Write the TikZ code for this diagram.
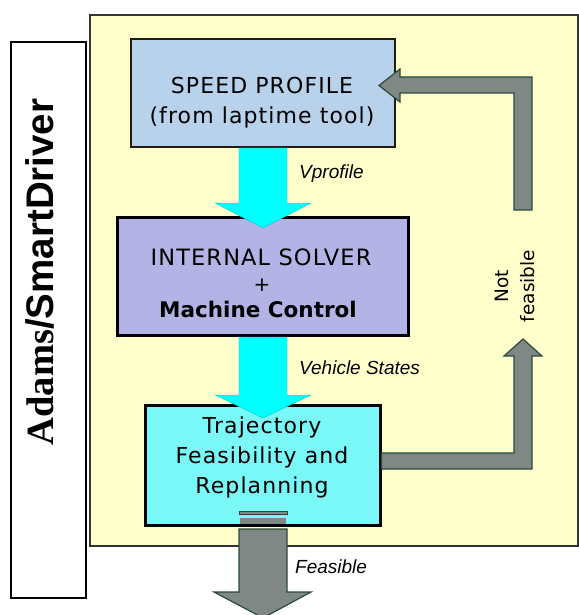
\documentclass[tikz,border=0pt]{standalone}
\usepackage{fontspec}
\setmainfont{DejaVu Sans}
\newfontfamily\boxfont[LetterSpace=5]{DejaVu Sans}
\newfontfamily\plainfont{DejaVu Sans}
\newfontfamily\boldboxfont{DejaVu Sans Bold}
\newfontfamily\labfont{Liberation Sans}
\newfontfamily\serifbold{Liberation Serif}
\newfontfamily\sansbold{Liberation Sans}
\definecolor{bgyellow}{HTML}{FFFFCC}
\definecolor{speedblue}{HTML}{B8D2EC}
\definecolor{solverpurple}{HTML}{B3B3E5}
\definecolor{trajcyan}{HTML}{7AF7F7}
\definecolor{arrowcyan}{HTML}{00FFFF}
\definecolor{grayarrow}{HTML}{7F8884}
\definecolor{grayedge}{HTML}{2B4A3C}
\begin{document}
\begin{tikzpicture}[x=1bp,y=-1bp,
  boxstyle/.style={draw=black, line width=3bp, inner sep=0pt, anchor=center},
  boxtext/.style={align=center, inner sep=0pt, font=\boxfont\fontsize{22bp}{30bp}\selectfont},
  labtext/.style={inner sep=0pt, anchor=west, font=\labfont\itshape\fontsize{19bp}{22bp}\selectfont},
  cyanarrow/.style={fill=arrowcyan, draw=arrowcyan!80!black, line width=0.4bp},
  grayblock/.style={fill=grayarrow, draw=grayedge, line width=1.2bp, line join=miter}
]
\useasboundingbox (0,0) rectangle (579,615);
% background panels
\node[draw=black!80, line width=1.2bp, fill=bgyellow, minimum width=488bp, minimum height=531bp, inner sep=0pt] (panel) at (334,280.5) {};
\node[draw=black, line width=1.2bp, fill=white, minimum width=75bp, minimum height=556bp, inner sep=0pt] (side) at (48.5,320) {};
\node[rotate=90, inner sep=0pt] (sidetext) at (40,272) {\fontsize{38.5bp}{40bp}\selectfont\serifbold\bfseries Adams\sansbold\bfseries/SmartDriver};

% boxes
\node[boxstyle, draw=black!80!brown, line width=2.6bp, fill=speedblue, minimum width=264bp, minimum height=108bp] (speed) at (263,93) {};
\node[boxstyle, fill=solverpurple, minimum width=291bp, minimum height=118bp] (solver) at (262.5,276) {};
\node[boxstyle, fill=trajcyan, minimum width=235bp, minimum height=120bp] (traj) at (262.5,465) {};

% cyan arrows (drawn over the box tops)
\draw[cyanarrow] (239,148) -- (239,203) -- (215,203) -- (263,228) -- (311,203) -- (287,203) -- (287,148) -- cycle;
\draw[cyanarrow] (239,337) -- (239,395) -- (215,395) -- (263,418) -- (311,395) -- (287,395) -- (287,337) -- cycle;

% box texts
\node[boxtext] (speedtxt) at (262,103) {SPEED PROFILE\\(from laptime tool)};
\node[inner sep=0pt, font=\boxfont\fontsize{22.5bp}{26bp}\selectfont] (solvertxt1) at (261,257) {INTERNAL SOLVER};
\node[inner sep=0pt, font=\plainfont\fontsize{20bp}{24bp}\selectfont] (solverplus) at (262,285) {+};
\node[inner sep=0pt, font=\boldboxfont\fontsize{21.5bp}{24bp}\selectfont] (solvertxt2) at (258,309) {Machine Control};
\node[boxtext] (trajtxt) at (262,457) {Trajectory\\Feasibility and\\Replanning};

% gray feedback arrows
\draw[grayblock] (traj.east |- 0,453) -- (514,453) -- (514,356) -- (504,356) -- (523,339) -- (542,356) -- (532,356) -- (532,469) -- (traj.east |- 0,469) -- cycle;
\draw[grayblock] (514,210) -- (514,93) -- (400,93) -- (400,102) -- (379,85.5) -- (400,69) -- (400,77) -- (532,77) -- (532,210) -- cycle;

% feasible output arrow
\draw[grayblock, line width=0.8bp] (239,511.5) rectangle (287,514.5);
\fill[grayarrow] (240,518) rectangle (286,524);
\draw[grayblock] (239,529) -- (239,592) -- (214,592) -- (263,618) -- (311,592) -- (287,592) -- (287,529) -- cycle;

% labels
\node[labtext] (vprof) at (299,174) {Vprofile};
\node[labtext] (vstates) at (299,368) {Vehicle States};
\node[labtext] (feas) at (295,567) {Feasible};
\node[rotate=90, align=center, inner sep=0pt, font=\plainfont\fontsize{18.5bp}{26bp}\selectfont] (notfeas) at (515,286) {Not\\feasible};
\end{tikzpicture}
\end{document}
